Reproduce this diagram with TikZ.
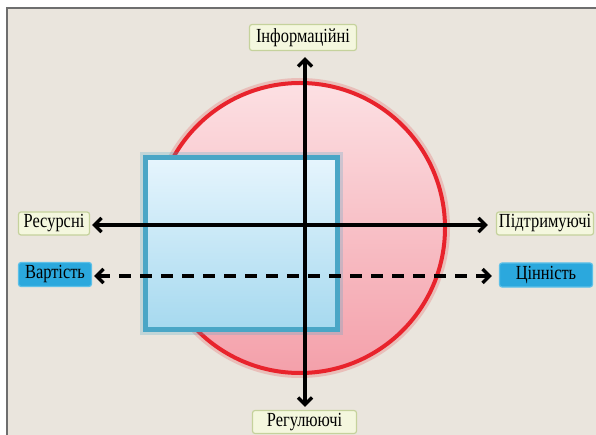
\documentclass[tikz,border=0pt]{standalone}
\usepackage{fontspec}
\setmainfont[FakeStretch=0.82]{Liberation Serif}
\usetikzlibrary{arrows.meta}
\definecolor{bg}{HTML}{EAE5DD}
\definecolor{frame}{HTML}{6E6E6E}
\definecolor{ringred}{HTML}{E8232C}
\definecolor{pinktop}{HTML}{FCE0E3}
\definecolor{pinkbot}{HTML}{F4A0AA}
\definecolor{sqborder}{HTML}{4AA6C6}
\definecolor{sqtop}{HTML}{E6F5FD}
\definecolor{sqbot}{HTML}{A6D9EF}
\definecolor{lblfill}{HTML}{F4F7DE}
\definecolor{lbldraw}{HTML}{C5D29C}
\definecolor{bluefill}{HTML}{2BA8DD}
\definecolor{bluedraw}{HTML}{5CC0E8}
\tikzset{
  lbl/.style={draw=lbldraw, fill=lblfill, line width=1.2pt, rounded corners=2.5pt,
    inner xsep=2.5pt, inner ysep=0pt, minimum height=23pt,
    font=\fontsize{20}{22}\selectfont, text=black},
  bluelbl/.style={lbl, draw=bluedraw, fill=bluefill, minimum height=24pt},
  axis/.style={line width=3.2pt, black, {Straight Barb[length=7pt,width=14pt,line width=3.4pt]}-{Straight Barb[length=7pt,width=14pt,line width=3.4pt]}},
  dashaxis/.style={axis, dash pattern=on 12pt off 9pt}
}
\begin{document}
\begin{tikzpicture}[x=1pt,y=-1pt]
\useasboundingbox (0,0) rectangle (596,435);
\fill[white] (0,0) rectangle (596,435);
\fill[bg] (7,8) rectangle (596,435);
\draw[frame, line width=2pt] (7,435) -- (7,8) -- (596,8);
% circle
\draw[ringred, opacity=0.2, line width=10pt] (300,228) circle (145);
\shade[top color=pinktop, bottom color=pinkbot] (300,228) circle (145);
\draw[ringred, line width=4pt] (300,228) circle (145);
% square
\draw[sqborder, opacity=0.25, line width=11pt] (145.5,157.5) rectangle (337.5,329.5);
\shade[top color=sqtop, bottom color=sqbot] (145.5,157.5) rectangle (337.5,329.5);
\draw[sqborder, line width=5pt] (145.5,157.5) rectangle (337.5,329.5);
% labels
\node[lbl, minimum width=107pt, minimum height=26pt] (info) at (303,37.5) {Інформаційні};
\node[lbl, minimum width=104pt] (reg) at (304.5,422) {Регулюючі};
\node[lbl, minimum width=71pt] (res) at (54,223.5) {Ресурсні};
\node[lbl, minimum width=93pt] (sup) at (545,223.5) {Підтримуючі};
\node[bluelbl, minimum width=73pt] (cost) at (55,274.5) {Вартість};
\node[bluelbl, minimum width=93pt] (val) at (546,275) {Цінність};
% axes
\draw[axis, shorten <=3pt, shorten >=6pt] (reg.north -| 305,0) -- (info.south -| 305,0);
\draw[axis, shorten <=2pt, shorten >=8pt] (res.east |- 0,225) -- (sup.west |- 0,225);
\draw[dashaxis, shorten <=2pt, shorten >=7pt] (cost.east |- 0,276) -- (val.west |- 0,276);
\end{tikzpicture}
\end{document}
